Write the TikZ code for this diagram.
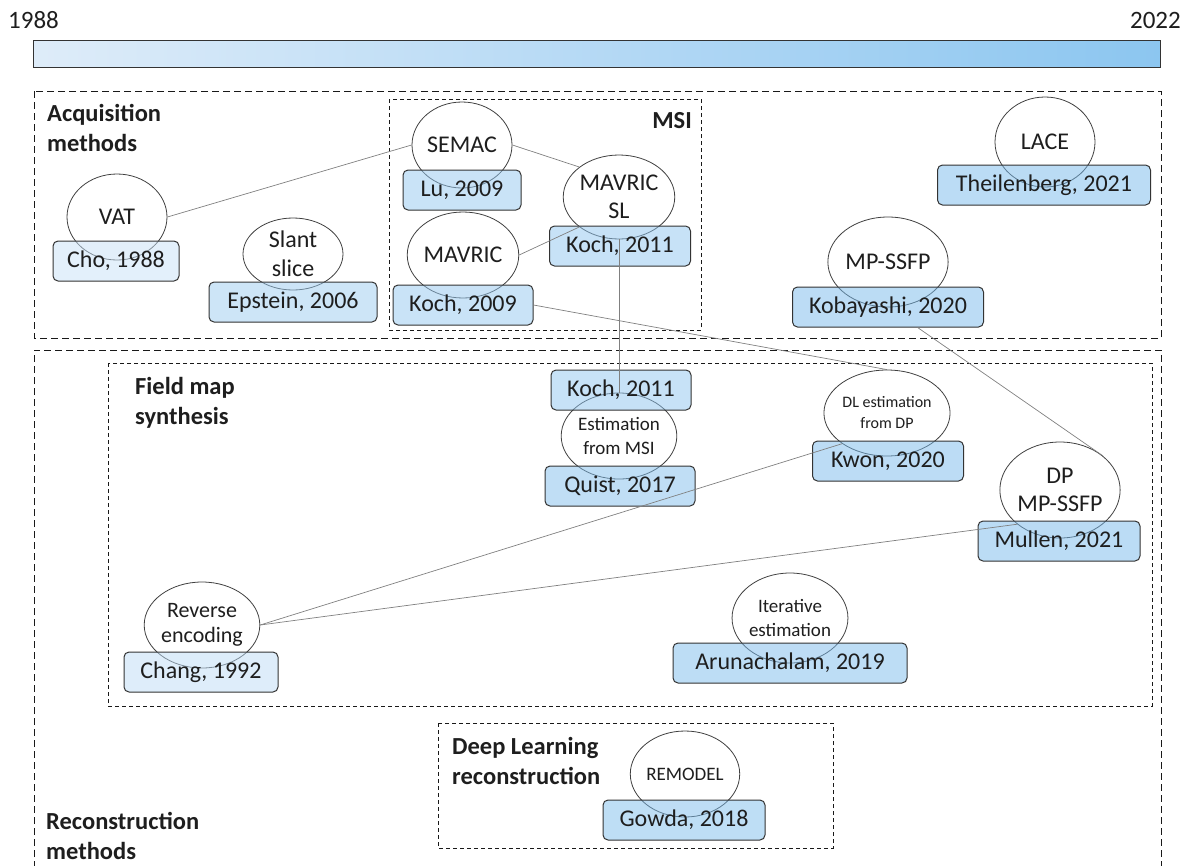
\documentclass[tikz,border=0pt]{standalone}
\usepackage{fontspec}
\setmainfont{Carlito}
\usetikzlibrary{shapes.geometric}
\definecolor{tlLight}{RGB}{222,236,249}
\definecolor{tlDark}{RGB}{140,198,240}
\definecolor{refLight}{RGB}{199,225,247}
\definecolor{refDark}{RGB}{119,185,235}
\definecolor{ink}{RGB}{30,30,30}

\begin{document}
\begin{tikzpicture}[x=1pt, y=-1pt, text=ink,
  bub/.style={ellipse, draw=black!75, fill=white, line width=0.8pt, minimum width=100pt, minimum height=86pt, inner sep=0pt, align=center, font=\fontsize{24}{28}\selectfont},
  ref/.style 2 args={rectangle, rounded corners=5pt, draw=black!80, line width=1pt, fill=refDark!#1!refLight, fill opacity=0.5, text opacity=1, minimum width=#2, minimum height=40pt, inner sep=0pt, font=\fontsize{24}{28}\selectfont},
  link/.style={draw=black!50, line width=0.7pt},
  frame/.style={draw=black!90, line width=0.9pt, dash pattern=on 7pt off 4pt},
  subframe/.style={draw=black!90, line width=0.8pt, dash pattern=on 4pt off 3pt},
  grp/.style={anchor=north west, inner sep=0pt, align=left, font=\bfseries\fontsize{24.5}{30}\selectfont}]
  \useasboundingbox (0,0) rectangle (1186,865);

  \node[anchor=base west, inner sep=0pt, font=\fontsize{25}{28}\selectfont] (ystart) at (8,28) {1988};
  \node[anchor=base east, inner sep=0pt, font=\fontsize{25}{28}\selectfont] (yend) at (1181,28) {2022};
  \shade[left color=tlLight, right color=tlDark, draw=black!80, line width=0.9pt] (33,40) rectangle (1160,67);

  \draw[frame] (34,91) rectangle (1161,338);
  \draw[frame] (34,868) -- (34,350) -- (1161,350) -- (1161,868);
  \draw[subframe] (389,99) rectangle (701,330);
  \draw[subframe] (108,363) rectangle (1152,706);
  \draw[subframe] (438,723) rectangle (833,848);

  \node[grp] (acq) at (47,104) {Acquisition\\methods};
  \node[grp, anchor=north east] (msi) at (692,112) {MSI};
  \node[grp] (fms) at (135,377) {Field map\\synthesis};
  \node[grp] (dlr) at (452,737) {Deep Learning\\reconstruction};
  \node[grp] (rec) at (46,812) {Reconstruction\\methods};

  \node[bub] (vat) at (117,217) {VAT};
  \node[ref={0}{126pt}] (cho) at (116,261) {Cho, 1988};
  \node[bub, minimum height=72pt, font=\fontsize{24}{29}\selectfont] (slant) at (293,254) {Slant\\slice};
  \node[ref={55}{168pt}] (epstein) at (293,302) {Epstein, 2006};
  \node[bub] (semac) at (462,145) {SEMAC};
  \node[ref={64}{118pt}] (lu) at (462,190) {Lu, 2009};
  \node[bub] (mavric) at (463,255) {MAVRIC};
  \node[ref={64}{140pt}] (koch09) at (463,305) {Koch, 2009};
  \node[bub, minimum width=98pt, minimum height=84pt] (mavricsl) at (619,197) {MAVRIC\\SL};
  \node[ref={70}{141pt}] (koch11a) at (620,246) {Koch, 2011};
  \node[bub, minimum height=90pt] (lace) at (1045,142) {LACE};
  \node[ref={100}{213pt}] (theil) at (1044,185) {Theilenberg, 2021};
  \node[bub, minimum height=90pt] (mpssfp) at (888,262) {MP-SSFP};
  \node[ref={97}{191pt}] (koba) at (888,307) {Kobayashi, 2020};

  \node[bub, font=\fontsize{19}{24}\selectfont] (estmsi) at (619,436) {Estimation\\from MSI};
  \node[ref={70}{140pt}] (koch11b) at (621,390) {Koch, 2011};
  \node[ref={88}{150pt}] (quist) at (620,486) {Quist, 2017};
  \node[bub, font=\fontsize{16}{21}\selectfont] (dlest) at (887,413) {DL estimation\\from DP};
  \node[ref={97}{151pt}] (kwon) at (888,461) {Kwon, 2020};
  \node[bub, minimum height=96pt] (dpmp) at (1060,490) {DP\\MP-SSFP};
  \node[ref={100}{162pt}] (mullen) at (1059,541) {Mullen, 2021};
  \node[bub, font=\fontsize{22}{25}\selectfont] (revenc) at (202,625) {Reverse\\encoding};
  \node[ref={12}{154pt}] (chang) at (201,672) {Chang, 1992};
  \node[bub, minimum height=90pt, font=\fontsize{19}{24}\selectfont] (itest) at (790,618) {Iterative\\estimation};
  \node[ref={94}{234pt}] (arun) at (790,663) {Arunachalam, 2019};

  \node[bub, font=\fontsize{19}{24}\selectfont] (remodel) at (685,774) {REMODEL};
  \node[ref={91}{162pt}] (gowda) at (684,820) {Gowda, 2018};

  \draw[link] (vat.east) -- (semac.west);
  \draw[link] (semac.east) -- (mavricsl.north west);
  \draw[link] (mavric.east) -- (mavricsl.south west);
  \draw[link] (mavricsl.south) -- (estmsi.north);
  \draw[link] (koch09.east) -- (dlest.north);
  \draw[link] (koba) -- (dpmp.north east);
  \draw[link] (revenc.east) -- (dlest.south west);
  \draw[link] (revenc.east) -- (dpmp.south west);
\end{tikzpicture}
\end{document}
